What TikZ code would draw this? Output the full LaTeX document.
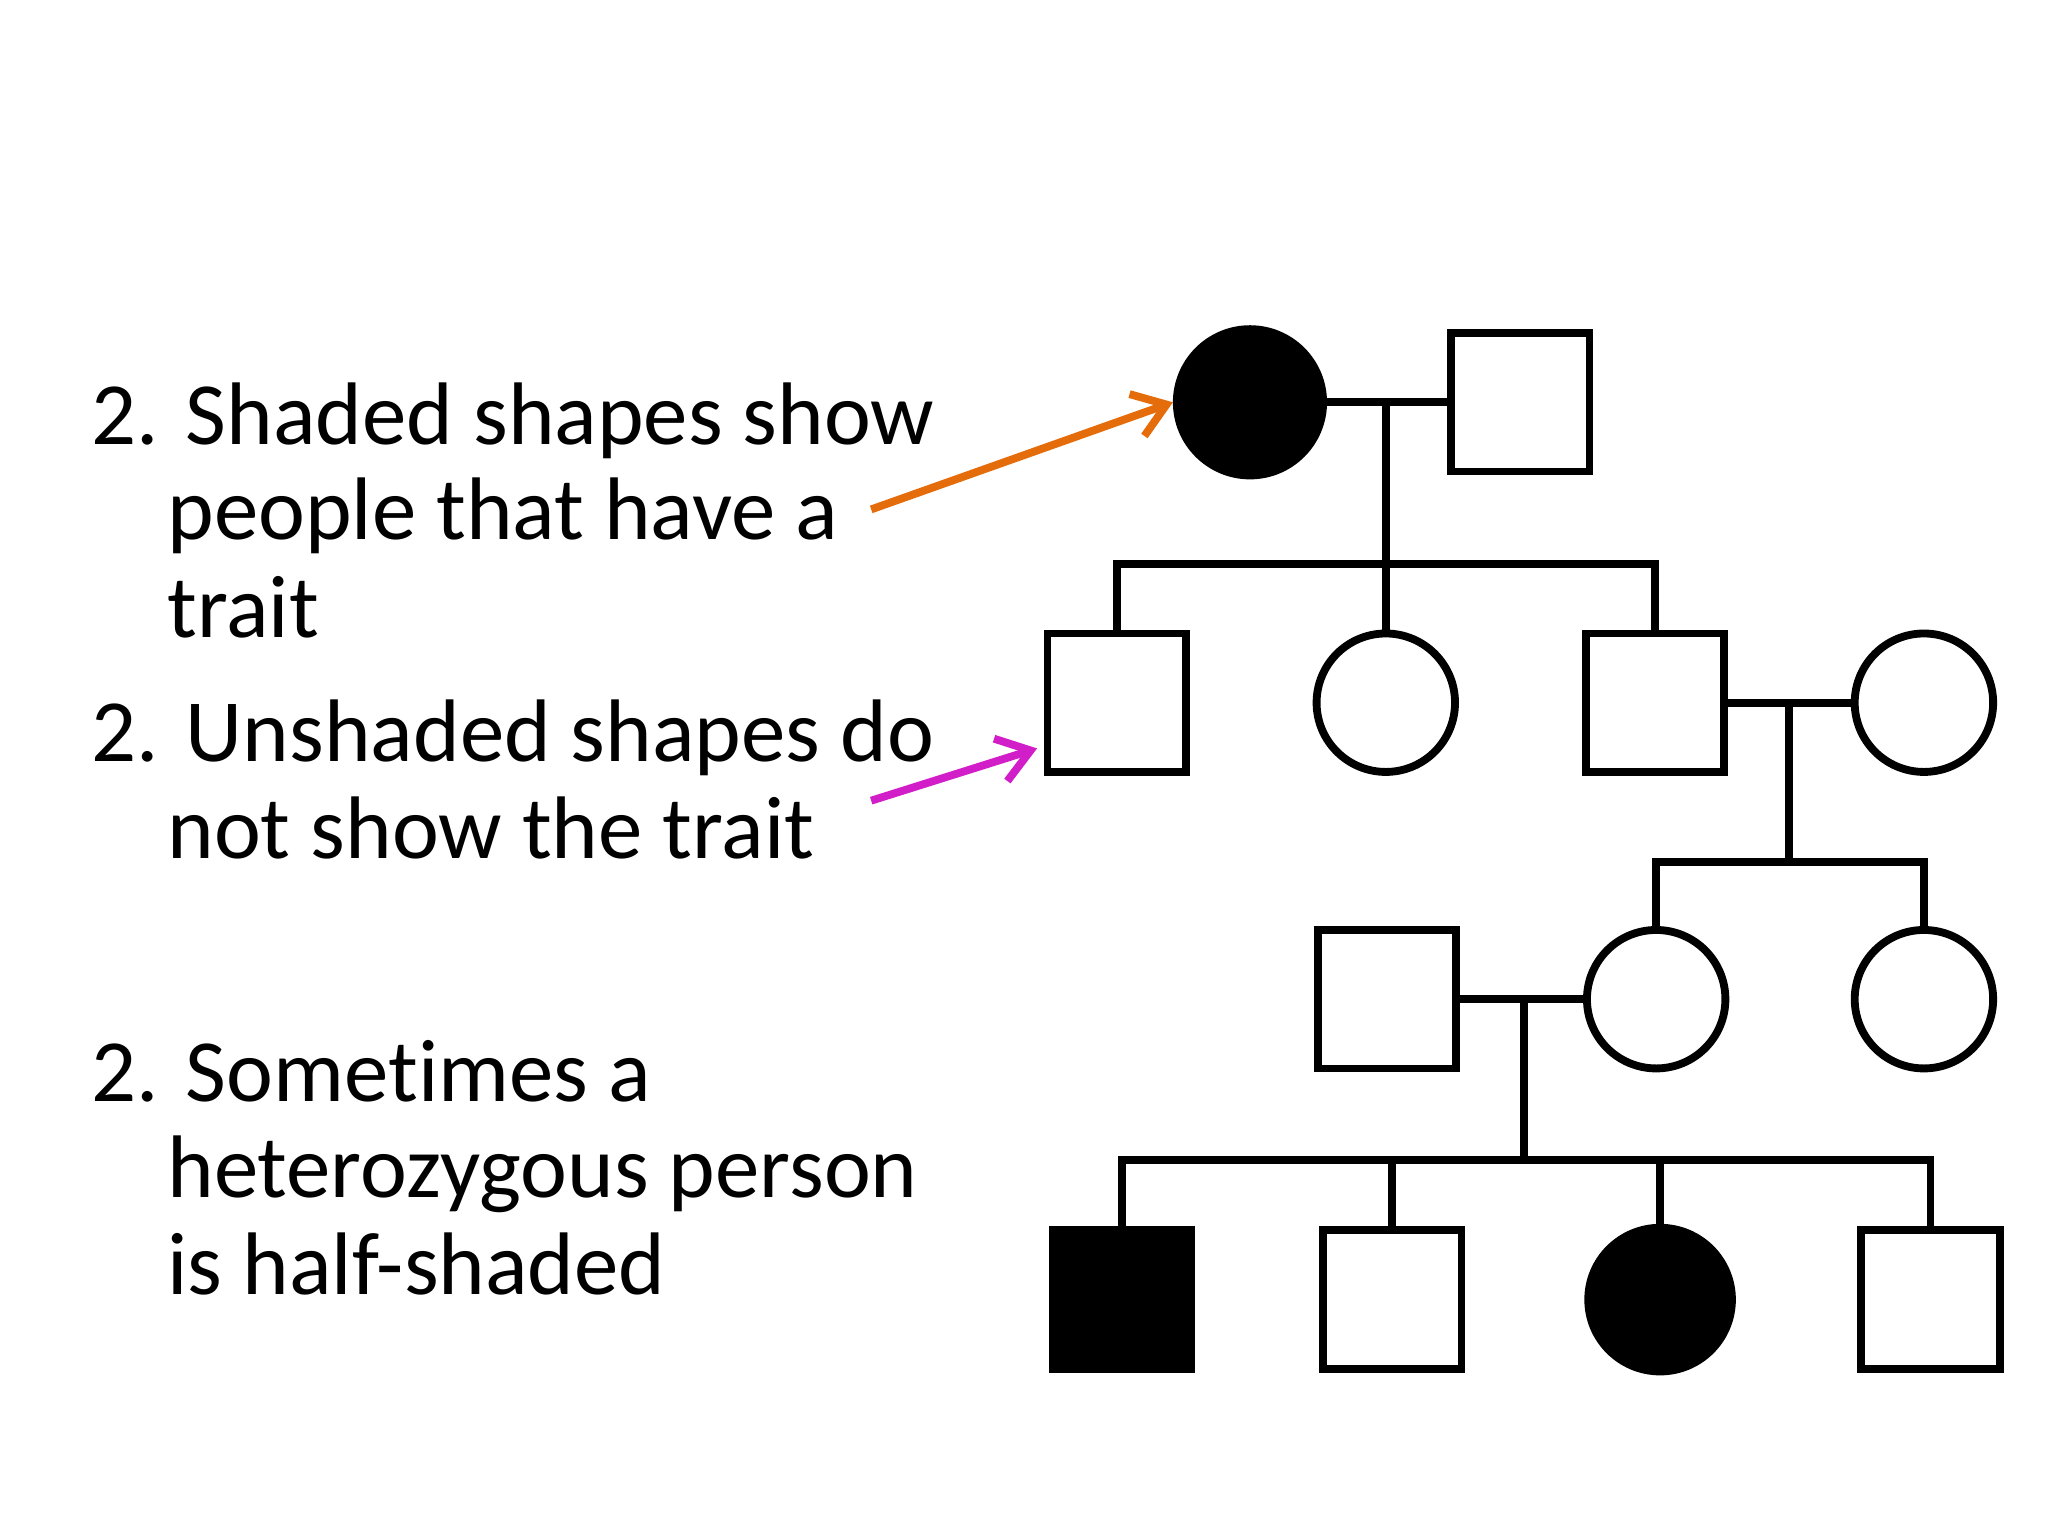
\documentclass[tikz,border=0pt]{standalone}
\usepackage{fontspec}
\setmainfont{Carlito}[Ligatures={NoCommon}]
\usetikzlibrary{arrows.meta}
\definecolor{orng}{RGB}{228,108,10}
\definecolor{mgnt}{RGB}{210,30,200}
\begin{document}
\begin{tikzpicture}[x=1pt,y=-1pt,
  ln/.style={line width=6pt},
  sq/.style={draw,line width=6pt,minimum size=106pt,inner sep=0pt},
  ci/.style={draw,line width=6pt,circle,minimum size=106pt,inner sep=0pt},
  txt/.style={anchor=base west,inner sep=0pt,font=\fontsize{68}{76}\selectfont},
  arr/.style={line width=6pt,-{Straight Barb[length=24pt,width=34pt,line width=6pt]}}]
\useasboundingbox (0,0) rectangle (1568,1176);
\fill[white] (0,0) rectangle (1568,1176);
% gen 1
\node[ci,fill=black,minimum size=112pt] (g1a) at (957,308) {};
\node[sq] (g1b) at (1164,308) {};
% gen 2
\node[sq] (g2a) at (855,538) {};
\node[ci] (g2b) at (1061,538) {};
\node[sq] (g2c) at (1267,538) {};
\node[ci] (g2d) at (1473,538) {};
% gen 3
\node[sq] (g3a) at (1062,765) {};
\node[ci] (g3b) at (1268,765) {};
\node[ci] (g3c) at (1473,765) {};
% gen 4
\node[sq,fill=black] (g4a) at (859,995) {};
\node[sq] (g4b) at (1066,995) {};
\node[ci,fill=black,minimum size=110pt] (g4c) at (1271,995) {};
\node[sq] (g4d) at (1478,995) {};
% couple 1
\coordinate (m1) at (1061,308);
\coordinate (s1) at (1061,432);
\draw[ln] (g1a) -- (g1b);
\draw[ln] (m1) -- (s1);
\draw[ln] (g2a.north) |- (s1) -| (g2c.north);
\draw[ln] (s1) -- (g2b.north);
% couple 2
\coordinate (m2) at (1370,538);
\coordinate (s2) at (1370,660);
\draw[ln] (g2c) -- (g2d);
\draw[ln] (m2) -- (s2);
\draw[ln] (g3b.north) |- (s2) -| (g3c.north);
% couple 3
\coordinate (m3) at (1167,765);
\coordinate (s3) at (1167,888);
\draw[ln] (g3a) -- (g3b);
\draw[ln] (m3) -- (s3);
\draw[ln] (g4a.north) |- (s3) -| (g4d.north);
\draw[ln] (g4b.north) -- (g4b.north |- s3);
\draw[ln] (g4c.north) -- (g4c.north |- s3);
% text
\node[txt] (t1) at (70,340) {2. Shaded shapes show};
\node[txt] (t2) at (128,413) {people that have a};
\node[txt] (t3) at (128,488) {trait};
\node[txt] (t4) at (70,583) {2. Unshaded shapes do};
\node[txt] (t5) at (128,657) {not show the trait};
\node[txt] (t6) at (70,843) {2. Sometimes a};
\node[txt] (t7) at (128,917) {heterozygous person};
\node[txt] (t8) at (128,991) {is half-shaded};
% arrows
\coordinate (a1) at (667,390);
\coordinate (a2) at (667,613);
\draw[arr,orng] (a1) -- (g1a.west);
\draw[arr,mgnt] (a2) -- ([xshift=-5pt,yshift=-35pt]g2a.west);
\end{tikzpicture}
\end{document}
